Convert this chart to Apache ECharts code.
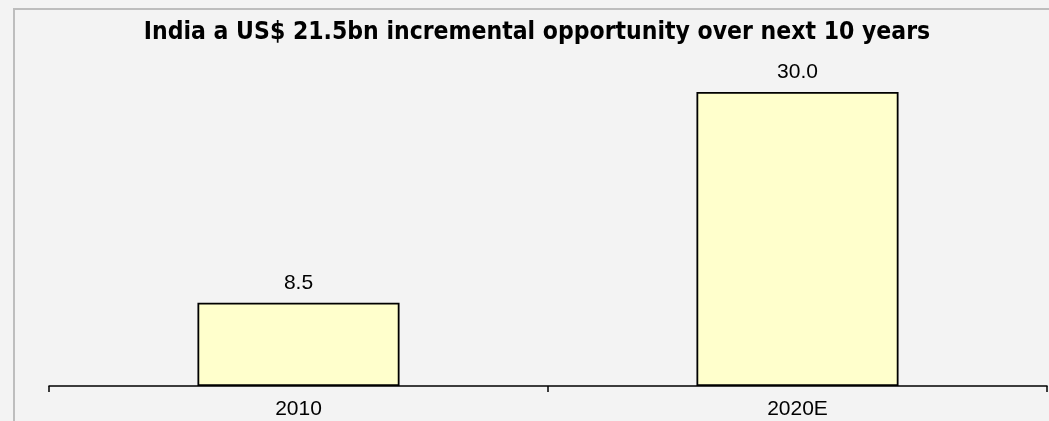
<!DOCTYPE html>
<html>
<head>
<meta charset="utf-8">
<script src="https://cdn.jsdelivr.net/npm/echarts@6/dist/echarts.min.js"></script>
<style>
html,body{margin:0;padding:0;background:#F3F3F3;}
#chart{width:1049px;height:421px;}
</style>
</head>
<body>
<div id="chart"></div>
<script>
var titleText = 'India a US$ 21.5bn incremental opportunity over next 10 years';
var categories = ['2010', '2020E'];
var values = [8.5, 30.0];

var chart = echarts.init(document.getElementById('chart'), null, {renderer: 'canvas'});
chart.setOption({
  backgroundColor: '#F3F3F3',
  animation: false,
  graphic: [
    {type: 'rect', shape: {x: 14, y: 9, width: 1100, height: 500}, style: {fill: 'none', stroke: '#BDBDBD', lineWidth: 2}, z: 0},
    {type: 'text', x: 537, y: 33, style: {text: titleText, textAlign: 'center', textVerticalAlign: 'middle', font: 'bold 24.5px "DejaVu Sans Condensed", "DejaVu Sans"', fill: '#000'}}
  ],
  grid: {left: 49, right: 2, top: 92, bottom: 35},
  xAxis: {
    type: 'category',
    data: categories,
    axisLine: {show: true, lineStyle: {color: '#000', width: 1.5}},
    axisTick: {show: true, interval: 0, length: 6, lineStyle: {color: '#000', width: 1.5}},
    axisLabel: {color: '#000', fontSize: 21, fontFamily: '"Liberation Sans", Arial, sans-serif', margin: 13}
  },
  yAxis: {
    type: 'value', min: 0, max: 30, show: false, splitLine: {show: false}
  },
  series: [{
    type: 'bar',
    data: values,
    barWidth: '40.5%',
    itemStyle: {color: '#FFFFCC', borderColor: '#000', borderWidth: 1.8},
    label: {
      show: true, position: 'top', distance: 9,
      formatter: function (p) { return p.value.toFixed(1); },
      color: '#000', fontSize: 21, fontFamily: '"Liberation Sans", Arial, sans-serif'
    }
  }]
});
</script>
</body>
</html>
